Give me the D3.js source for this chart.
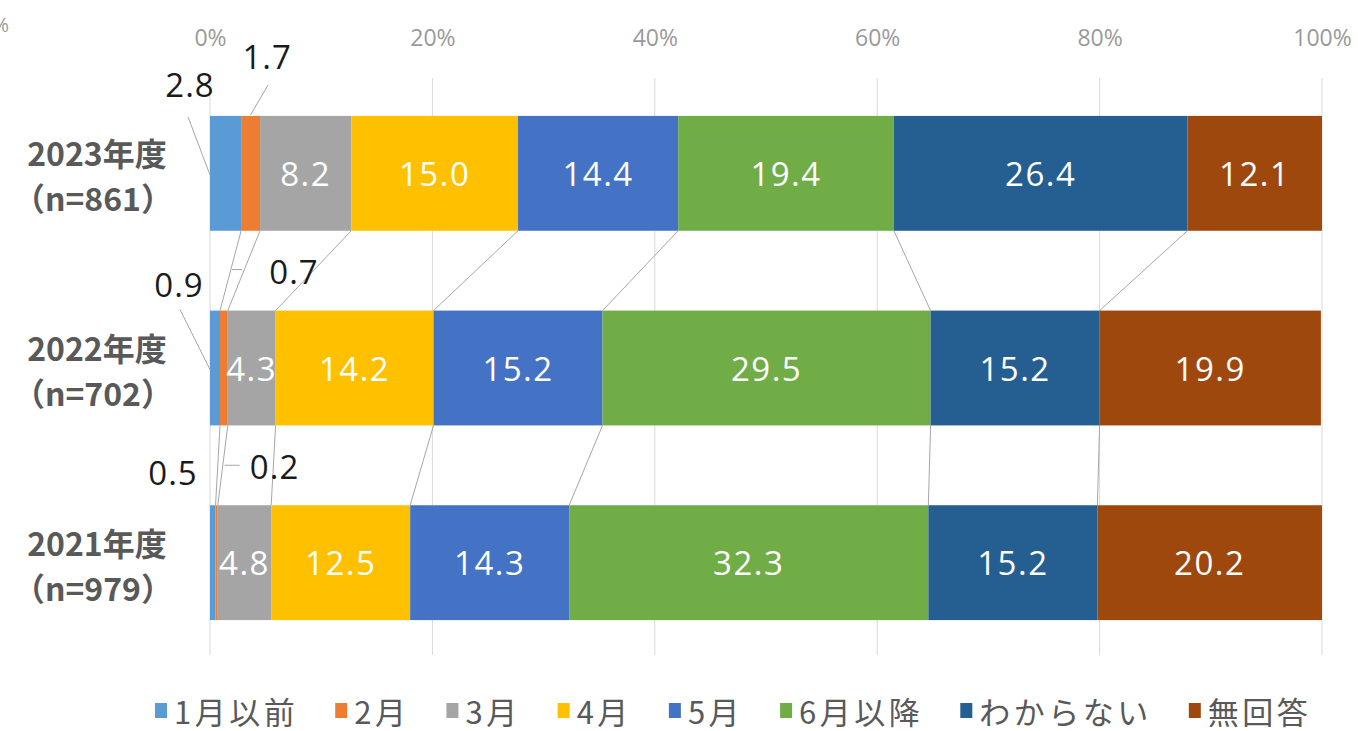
<!DOCTYPE html>
<html><head><meta charset="utf-8">
<script src="https://cdn.jsdelivr.net/npm/d3@7"></script>
<style>
body{margin:0;background:#fff;}
svg{display:block;font-family:"Noto Sans CJK JP","Noto Sans",sans-serif;}
</style></head>
<body><svg id="c" width="1358" height="731"></svg>
<script>
const categories = ["2023年度", "2022年度", "2021年度"];
const sampleSizes = ["（n=861）", "（n=702）", "（n=979）"];
const seriesNames = ["1月以前", "2月", "3月", "4月", "5月", "6月以降", "わからない", "無回答"];
const seriesColors = ["#5B9BD5", "#ED7D31", "#A5A5A5", "#FFC000", "#4472C4", "#70AD47", "#255E91", "#9E480E"];
const values2023 = [2.8, 1.7, 8.2, 15.0, 14.4, 19.4, 26.4, 12.1];
const values2022 = [0.9, 0.7, 4.3, 14.2, 15.2, 29.5, 15.2, 19.9];
const values2021 = [0.5, 0.2, 4.8, 12.5, 14.3, 32.3, 15.2, 20.2];
const tickValues = [0, 20, 40, 60, 80, 100];

const rows = [values2023, values2022, values2021];
const svg = d3.select("#c");
const x = d3.scaleLinear().domain([0, 100]).range([210, 1322]);
const y = d3.scaleBand().domain(categories).range([76, 660]).paddingInner(0.41).paddingOuter(0.205);
const numFont = "'Open Sans','Noto Sans',sans-serif";

// gridlines
svg.append("g").selectAll("line").data(tickValues).join("line")
  .attr("x1", d => x(d)).attr("x2", d => x(d))
  .attr("y1", 78).attr("y2", 655)
  .attr("stroke", "#d9d9d9").attr("stroke-width", 1);

// axis
const ax = svg.append("g").attr("transform", "translate(0,46)")
  .call(d3.axisTop(x).tickValues(tickValues).tickSize(0).tickPadding(0).tickFormat(d => d + "%"));
ax.select(".domain").remove();
ax.selectAll("text").attr("fill", "#9a9a9a").style("font-size", "23px").style("font-family", numFont);

// stacked data
const stacks = rows.map((vals, i) => {
  let c = 0;
  return vals.map((v, j) => { const s = c; c += v; return {cat: categories[i], j, v, x0: s, x1: c}; });
});

// series lines
for (let i = 0; i < stacks.length - 1; i++) {
  const a = stacks[i], b = stacks[i + 1];
  for (let j = 0; j < seriesNames.length - 1; j++) {
    svg.append("line")
      .attr("x1", x(a[j].x1)).attr("y1", y(categories[i]) + y.bandwidth())
      .attr("x2", x(b[j].x1)).attr("y2", y(categories[i + 1]))
      .attr("stroke", "#a6a6a6").attr("stroke-width", 1);
  }
}

// bars
const g = svg.append("g");
stacks.forEach(st => {
  g.selectAll(null).data(st).join("rect")
    .attr("x", d => x(d.x0)).attr("width", d => x(d.x1) - x(d.x0))
    .attr("y", d => y(d.cat)).attr("height", y.bandwidth())
    .attr("fill", d => seriesColors[d.j]);
  g.selectAll(null).data(st.filter(d => d.j >= 2)).join("text")
    .attr("x", d => (x(d.x0) + x(d.x1)) / 2).attr("y", d => y(d.cat) + y.bandwidth() / 2)
    .attr("text-anchor", "middle").attr("dominant-baseline", "central")
    .attr("fill", "#fff").style("font-size", "33px").style("letter-spacing", "1.5px")
    .style("font-family", numFont)
    .text(d => d.v.toFixed(1));
});

// outside labels for the two smallest series
const outside = [
  {r: 0, j: 0, dx: -20, dy: -31},
  {r: 0, j: 1, dx: 26, dy: -59},
  {r: 1, j: 0, dx: -31, dy: -26},
  {r: 1, j: 1, dx: 74, dy: -39},
  {r: 2, j: 0, dx: -37, dy: -33},
  {r: 2, j: 1, dx: 59, dy: -39}
];
const lead = (x1, y1, x2, y2) => svg.append("line").attr("x1", x1).attr("y1", y1)
  .attr("x2", x2).attr("y2", y2).attr("stroke", "#a6a6a6").attr("stroke-width", 1);
outside.forEach((o, k) => {
  const d = stacks[o.r][o.j];
  const top = y(categories[o.r]);
  const cx = x(d.x0) + o.dx, cy = top + o.dy;
  if (k === 0) lead(cx - 2, cy + 32, x(0), top + 59);
  if (k === 1) lead(cx + 1, cy + 28, (x(d.x0) + x(d.x1)) / 2, top - 1);
  if (k === 2) lead(cx + 1, cy + 25, x(0), top + 59);
  if (k === 3) lead(cx - 62, cy - 2, cx - 52, cy - 2);
  if (k === 5) lead(cx - 50, cy - 1, cx - 35, cy - 1);
  svg.append("text").attr("x", cx).attr("y", cy)
    .attr("text-anchor", "middle").attr("dominant-baseline", "central")
    .attr("fill", "#1a1a1a").style("font-size", "33px").style("letter-spacing", "1px")
    .style("font-family", numFont)
    .text(d.v.toFixed(1));
});

// category labels
categories.forEach((c, i) => {
  const cy = y(c) + y.bandwidth() / 2;
  svg.append("text").attr("x", 97).attr("y", cy - 21).attr("text-anchor", "middle")
    .attr("dominant-baseline", "central").attr("fill", "#595959")
    .style("font-size", "32px").style("font-weight", "bold").text(c);
  svg.append("text").attr("x", 93).attr("y", cy + 24).attr("text-anchor", "middle")
    .attr("dominant-baseline", "central").attr("fill", "#595959")
    .style("font-size", "32px").style("font-weight", "bold").text(sampleSizes[i]);
});

// legend
const lg = svg.append("g").attr("transform", "translate(0,710)");
let lx = 155;
seriesNames.forEach((n, j) => {
  lg.append("rect").attr("x", lx).attr("y", -7).attr("width", 12).attr("height", 15).attr("fill", seriesColors[j]);
  const t = lg.append("text").attr("x", lx + 19).attr("y", 0).attr("dominant-baseline", "central")
    .attr("fill", "#595959").style("font-size", "31px").style("letter-spacing", "3.5px").text(n);
  lx += 19 + t.node().getComputedTextLength() + 37;
});

// clipped fragment at top-left
svg.append("text").attr("x", 9).attr("y", 32).attr("text-anchor", "end").attr("fill", "#9a9a9a")
  .style("font-size", "20px").style("font-family", numFont).text("%");
</script></body></html>
